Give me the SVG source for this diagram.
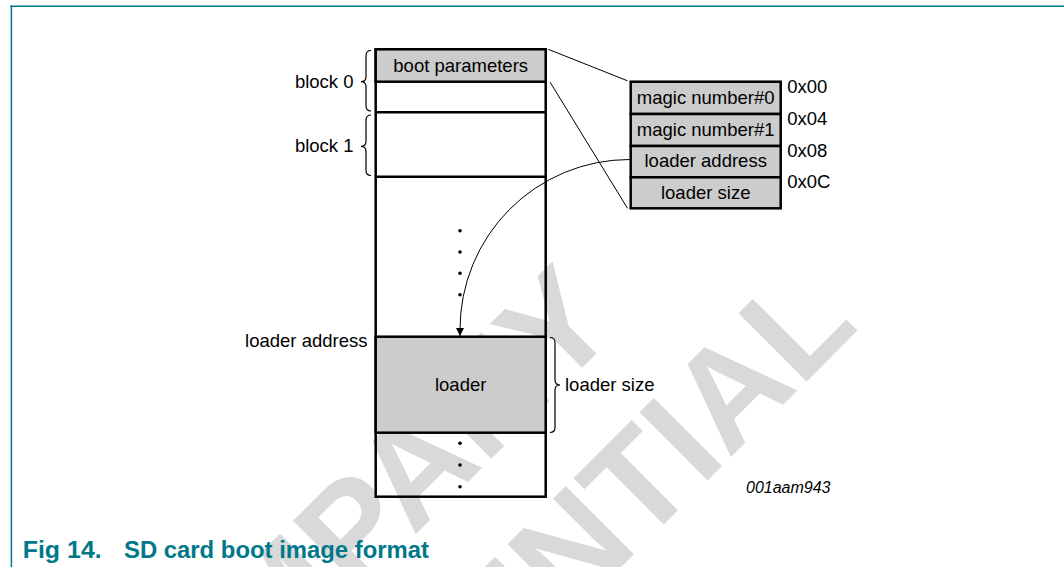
<svg xmlns="http://www.w3.org/2000/svg" width="1064" height="567" viewBox="0 0 1064 567">
  <style>
    .lbl { font-family: "Liberation Sans", Arial, sans-serif; font-size: 18.5px; fill: #000; }
    .mid { text-anchor: middle; }
    .end { text-anchor: end; }
    .tag { font-family: "Liberation Sans", Arial, sans-serif; font-size: 16px; font-style: italic; fill: #000; }
    .cap { font-family: "Liberation Sans", Arial, sans-serif; font-size: 23px; font-weight: bold; fill: #007889; }
    .wm { font-family: "Liberation Sans", Arial, sans-serif; font-size: 140px; font-weight: bold; fill: #d9d9d9; text-anchor: middle; }
    .cell { fill: none; stroke: #000; stroke-width: 2.5; }
    .shade { fill: #cccccc; stroke: #000; stroke-width: 2.5; }
    .thin { fill: none; stroke: #000; stroke-width: 1; }
    .brace { fill: none; stroke: #000; stroke-width: 1.2; }
    .frame { fill: none; stroke: #007889; stroke-width: 1.5; }
  </style>
  <defs>
    <marker id="arrow" viewBox="0 0 10 10" refX="10" refY="5" markerWidth="9" markerHeight="8" markerUnits="userSpaceOnUse" orient="auto">
      <path d="M0,0 L10,5 L0,10 Z" fill="#000"/>
    </marker>
  </defs>

  <rect width="1064" height="567" fill="#fff"/>

  <!-- page frame -->
  <path class="frame" d="M10,6.3 H1064 M11.4,6.3 V567"/>

  <!-- background watermark -->
  <g id="watermark">
    <text class="wm" x="373" y="577" transform="rotate(-45 373 577)">COMPANY</text>
    <text class="wm" x="492" y="696" transform="rotate(-45 492 696)">CONFIDENTIAL</text>
  </g>

  <!-- memory image column -->
  <g id="memory">
    <rect class="cell" x="375.7" y="49.3" width="170" height="447.4"/>
    <g id="boot-parameters">
      <rect class="shade" x="375.7" y="49.3" width="170" height="32.4"/>
      <text class="lbl mid" x="460.7" y="71.5">boot parameters</text>
    </g>
    <line class="cell" x1="375.7" y1="112.3" x2="545.7" y2="112.3"/>
    <line class="cell" x1="375.7" y1="176.7" x2="545.7" y2="176.7"/>
    <g id="loader">
      <rect class="shade" x="375.7" y="336.7" width="170" height="96"/>
      <text class="lbl mid" x="460.7" y="391">loader</text>
    </g>
    <g id="gap-dots" fill="#000">
      <circle cx="460" cy="230.7" r="1.8"/>
      <circle cx="460" cy="252" r="1.8"/>
      <circle cx="460" cy="273.3" r="1.8"/>
      <circle cx="460" cy="294.7" r="1.8"/>
      <circle cx="460" cy="443.3" r="1.8"/>
      <circle cx="460" cy="465" r="1.8"/>
      <circle cx="460" cy="486.7" r="1.8"/>
    </g>
  </g>

  <!-- block braces and labels -->
  <g id="block0">
    <path class="brace" d="M371,50.5 Q366,50.5 366,55.5 V76.7 Q366,81.7 361,81.7 Q366,81.7 366,86.7 V106 Q366,111 371,111"/>
    <text class="lbl end" x="353.5" y="87.7">block 0</text>
  </g>
  <g id="block1">
    <path class="brace" d="M371,115 Q366,115 366,120 V141.3 Q366,146.3 361,146.3 Q366,146.3 366,151.3 V170.5 Q366,175.5 371,175.5"/>
    <text class="lbl end" x="353.5" y="151.7">block 1</text>
  </g>
  <g id="loader-address-label">
    <text class="lbl end" x="367.5" y="346.7">loader address</text>
  </g>
  <g id="loader-size-label">
    <path class="brace" d="M550,337.5 Q555,337.5 555,342.5 V380 Q555,385 560,385 Q555,385 555,390 V427.5 Q555,432.5 550,432.5"/>
    <text class="lbl" x="565" y="390.7">loader size</text>
  </g>

  <!-- boot parameter table -->
  <g id="param-table">
    <rect class="shade" x="630.7" y="81.7" width="150" height="32.3"/>
    <rect class="shade" x="630.7" y="114" width="150" height="32"/>
    <rect class="shade" x="630.7" y="146" width="150" height="31.3"/>
    <rect class="shade" x="630.7" y="177.3" width="150" height="31"/>
    <text class="lbl mid" x="705.7" y="103.8">magic number#0</text>
    <text class="lbl mid" x="705.7" y="135.5">magic number#1</text>
    <text class="lbl mid" x="705.7" y="167">loader address</text>
    <text class="lbl mid" x="705.7" y="198.6">loader size</text>
    <text class="lbl" x="787.3" y="93.3">0x00</text>
    <text class="lbl" x="787.3" y="125">0x04</text>
    <text class="lbl" x="787.3" y="156.7">0x08</text>
    <text class="lbl" x="787.3" y="188.3">0x0C</text>
  </g>

  <!-- connectors -->
  <g id="connectors">
    <line class="thin" x1="548.3" y1="49.3" x2="627.5" y2="80.8"/>
    <line class="thin" x1="550" y1="82" x2="627.5" y2="208.3"/>
    <path class="thin" d="M629.5,159.5 A169.5,170 0 0 0 460,329.5 L460,336" stroke-width="1.3" marker-end="url(#arrow)"/>
  </g>

  <text class="tag" x="746" y="492.7">001aam943</text>

  <!-- figure caption -->
  <g id="caption">
    <text class="cap" x="22.7" y="558" textLength="79" lengthAdjust="spacingAndGlyphs">Fig 14.</text>
    <text class="cap" x="124" y="558" textLength="305" lengthAdjust="spacingAndGlyphs">SD card boot image format</text>
  </g>
</svg>
